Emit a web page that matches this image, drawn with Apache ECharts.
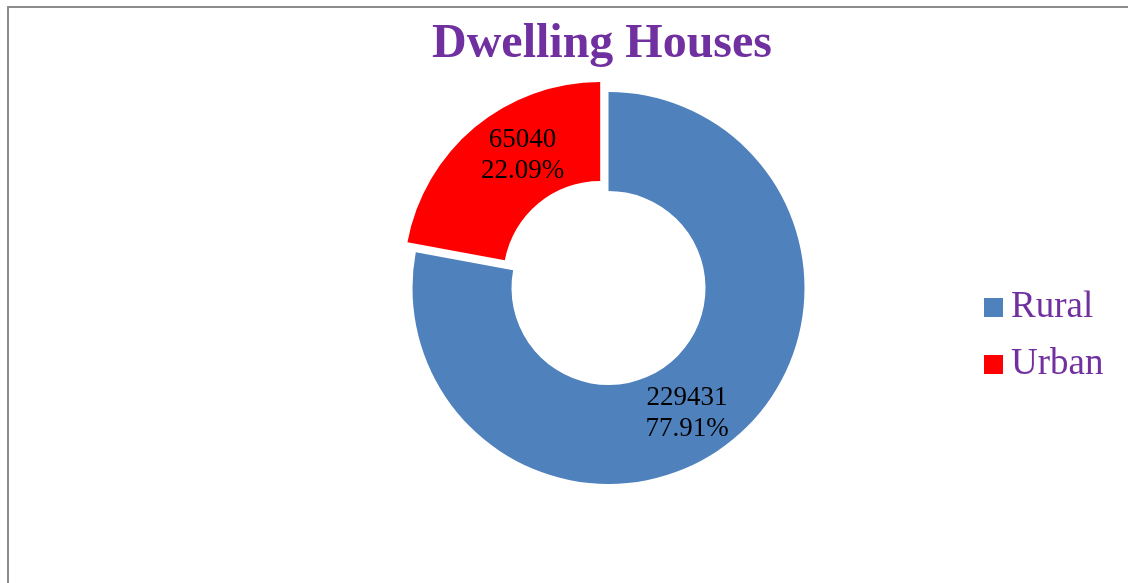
<!DOCTYPE html>
<html>
<head>
<meta charset="utf-8">
<title>Dwelling Houses</title>
<script src="https://cdn.jsdelivr.net/npm/echarts@6/dist/echarts.min.js"></script>
<style>
  html, body { margin: 0; padding: 0; background: #fff; }
  #wrap { position: relative; width: 1128px; height: 583px; overflow: hidden; }
  #chart { width: 1128px; height: 583px; }
  #frame {
    position: absolute; left: 7px; top: 6px; right: -10px; bottom: -10px;
    border-top: 2px solid #8c8c8c; border-left: 2px solid #8c8c8c;
    pointer-events: none;
  }
</style>
</head>
<body>
<div id="wrap">
  <div id="chart"></div>
  <div id="frame"></div>
</div>
<script>
var categories = ['Rural', 'Urban']
var houses = [229431, 65040]
var colors = ['#4f81bd', '#ff0000']

var serif = '"Liberation Serif", "Times New Roman", serif'
var purple = '#7030a0'

var chart = echarts.init(document.getElementById('chart'))

var pieData = categories.map(function (name, i) {
  return {
    name: name,
    value: houses[i],
    selected: name === 'Urban', // urban slice pulled out
    itemStyle: { color: colors[i] }
  }
})

chart.setOption({
  animation: false,
  title: {
    text: 'Dwelling Houses',
    left: 427,
    top: 16,
    textStyle: {
      fontFamily: serif,
      fontSize: 48,
      fontWeight: 'bold',
      color: purple
    }
  },
  legend: {
    orient: 'vertical',
    left: 979,
    top: 284,
    itemWidth: 19,
    itemHeight: 19,
    itemGap: 20,
    icon: 'rect',
    data: categories,
    textStyle: {
      fontFamily: serif,
      fontSize: 37,
      lineHeight: 37,
      color: purple,
      padding: [0, 0, 0, 3]
    }
  },
  series: [
    {
      type: 'pie',
      center: [608.5, 288],
      radius: [97, 196],
      startAngle: 90,
      clockwise: true,
      selectedMode: 'single',
      selectedOffset: 13,
      avoidLabelOverlap: false,
      label: {
        show: true,
        position: 'inside',
        formatter: '{c}\n{d}%',
        fontFamily: serif,
        fontSize: 27,
        lineHeight: 31,
        color: '#000'
      },
      labelLine: { show: false },
      // nudge labels to where the original sits them
      labelLayout: function (params) {
        return params.dataIndex === 0 ? { dx: -17, dy: 10 } : { dx: 18, dy: -8 }
      },
      emphasis: { disabled: true },
      select: {
        itemStyle: { opacity: 1 },
        label: { color: '#000' }
      },
      data: pieData
    }
  ]
})
</script>
</body>
</html>
